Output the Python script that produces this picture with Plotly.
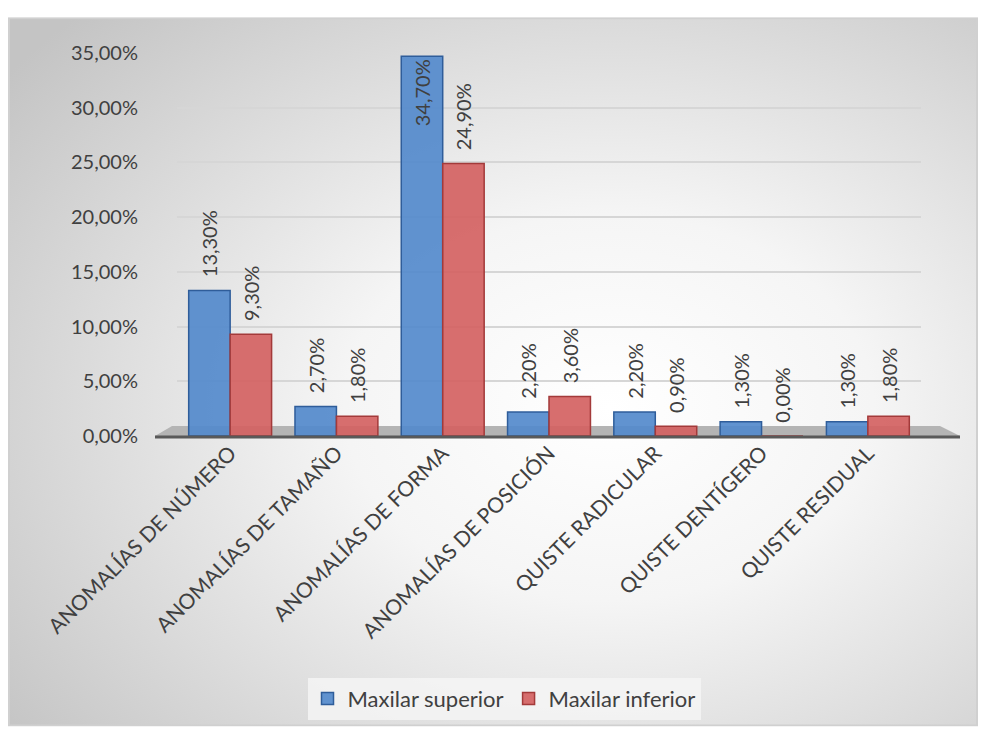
import base64
import plotly.graph_objects as go

categories = ["ANOMALÍAS DE NÚMERO", "ANOMALÍAS DE TAMAÑO", "ANOMALÍAS DE FORMA",
              "ANOMALÍAS DE POSICIÓN", "QUISTE RADICULAR", "QUISTE DENTÍGERO",
              "QUISTE RESIDUAL"]
superior = [13.3, 2.7, 34.7, 2.2, 2.2, 1.3, 1.3]
inferior = [9.3, 1.8, 24.9, 3.6, 0.9, 0.0, 1.8]
y_ticks = [0, 5, 10, 15, 20, 25, 30, 35]
y_ticktext = [f"{v:.2f}%".replace(".", ",") for v in y_ticks]

FONT = "Lato"
TXT = "#404040"

# plot area in page pixels
W, H = 986, 731
L, R, T, B = 177, 921, 53, 438
pw, ph = R - L, B - T

def px_x(p):
    return (p - L) / pw

def px_y(p):
    return (B - p) / ph

svg = ("<svg xmlns='http://www.w3.org/2000/svg' width='969' height='713' preserveAspectRatio='none'>"
       "<defs><radialGradient id='g' cx='0.62' cy='0.55' r='0.78'>"
       "<stop offset='0' stop-color='#ffffff'/><stop offset='0.35' stop-color='#f5f5f5'/>"
       "<stop offset='1' stop-color='#c4c4c4'/></radialGradient></defs>"
       "<rect x='1' y='1' width='967' height='711' fill='url(#g)' stroke='#d0d0d0' stroke-width='2'/></svg>")
src = "data:image/svg+xml;base64," + base64.b64encode(svg.encode()).decode()

def positions(vals):
    return ["inside" if v > 30 else "outside" for v in vals]

def templates(vals):
    return ["%{y:.2f}%" if v > 30 else "\u00a0\u00a0%{y:.2f}%" for v in vals]

LBL = 20

def bar(name, vals, fill, edge):
    return go.Bar(
        name=name, x=categories, y=vals,
        marker=dict(color=fill, line=dict(color=edge, width=1.5)),
        texttemplate=templates(vals), textposition=positions(vals), insidetextanchor="end",
        textangle=-90, constraintext="none",
        textfont=dict(family=FONT, size=LBL, color=TXT),
        insidetextfont=dict(family=FONT, size=LBL, color=TXT),
        outsidetextfont=dict(family=FONT, size=LBL, color=TXT),
        cliponaxis=False,
    )

fig = go.Figure()
fig.add_trace(bar("Maxilar superior", superior, "rgba(84,138,204,0.92)", "#2f5d9a"))
fig.add_trace(bar("Maxilar inferior", inferior, "rgba(212,98,98,0.92)", "#a33a3a"))

shapes = [
    dict(type="path", xref="paper", yref="paper",
         path=f"M {px_x(155)},{px_y(438)} L {px_x(960)},{px_y(438)} L {px_x(940)},{px_y(428)} L {px_x(172)},{px_y(428)} Z",
         fillcolor="#b4b4b4", line=dict(width=0), layer="below"),
    dict(type="line", xref="paper", yref="paper",
         x0=px_x(155), x1=px_x(960), y0=px_y(439), y1=px_y(439),
         line=dict(color="#595959", width=3), layer="above"),
]

fig.update_layout(
    width=W, height=H,
    margin=dict(l=L, r=W - R, t=T, b=H - B),
    paper_bgcolor="white", plot_bgcolor="rgba(0,0,0,0)",
    separators=",.",
    barmode="group", bargap=0.22, bargroupgap=0.0,
    font=dict(family=FONT, color=TXT, size=20),
    images=[dict(source=src, xref="paper", yref="paper",
                 x=px_x(8), y=px_y(17), sizex=px_x(978) - px_x(8),
                 sizey=px_y(17) - px_y(730), sizing="stretch",
                 xanchor="left", yanchor="top", layer="below")],
    shapes=shapes,
    showlegend=True,
    legend=dict(orientation="h", x=px_x(504), y=px_y(702), xanchor="center", yanchor="middle",
                bgcolor="rgba(245,245,245,0.85)", font=dict(family=FONT, size=22, color=TXT),
                traceorder="normal", itemwidth=30),
    xaxis=dict(tickangle=-45, tickfont=dict(family=FONT, size=21, color=TXT),
               showline=False, showgrid=False, ticks="", zeroline=False),
    yaxis=dict(range=[0, 35], tickvals=y_ticks, ticktext=y_ticktext,
               tickfont=dict(family=FONT, size=20, color=TXT),
               showgrid=True, gridcolor="#d6d6d6", gridwidth=1.5,
               zeroline=False, showline=False, ticks="", ticklabelstandoff=38),
)

fig.write_html("out.html")
